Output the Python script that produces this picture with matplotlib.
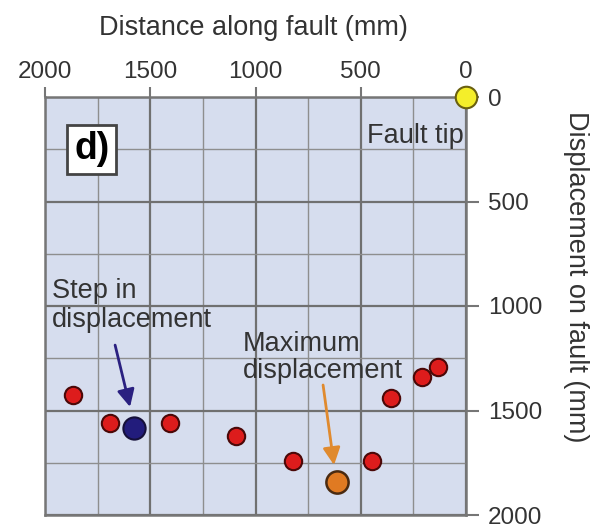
import numpy as np
import matplotlib
matplotlib.use('Agg')
import matplotlib.pyplot as plt

plt.rcParams['font.family'] = ['Liberation Sans', 'DejaVu Sans']

# distance along fault (mm) and displacement on fault (mm)
dist_red = [1868, 1691, 1406, 1093, 820, 445, 358, 208, 132]
disp_red = [1426, 1561, 1561, 1620, 1742, 1742, 1439, 1338, 1293]
dist_step = [1576]
disp_step = [1585]
dist_max = [611]
disp_max = [1841]
dist_tip = [0]
disp_tip = [0]
major_ticks = [0, 500, 1000, 1500, 2000]

fig = plt.figure(figsize=(5.92, 5.28), dpi=100)
ax = fig.add_axes([45/592, 13/528, 421/592, 418/528])
ax.set_facecolor('#d6ddee')

ax.set_xlim(2000, 0)
ax.set_ylim(2000, 0)
ax.set_xticks(major_ticks)
ax.set_yticks(major_ticks)
ax.set_xticks(np.arange(0, 2001, 250), minor=True)
ax.set_yticks(np.arange(0, 2001, 250), minor=True)

ax.set_axisbelow(True)
ax.grid(which='minor', color='#8e8e8e', lw=1.0)
ax.grid(which='major', color='#707070', lw=1.6)

for s in ax.spines.values():
    s.set_color('#767676')
    s.set_linewidth(1.8)

ax.tick_params(axis='x', which='major', top=True, bottom=False, labeltop=True,
               labelbottom=False, length=7, width=1.5, color='#767676', pad=3,
               labelsize=17.5, labelcolor='#333333')
ax.tick_params(axis='y', which='major', right=True, left=False, labelright=True,
               labelleft=False, length=9, width=1.5, color='#767676', pad=7,
               labelsize=17.5, labelcolor='#333333')
ax.tick_params(which='minor', length=0)

fig.text(253/592, 1 - 28/528, 'Distance along fault (mm)', ha='center', va='center',
         fontsize=19.5, color='#333333')
fig.text(576/592, 1 - 277/528, 'Displacement on fault (mm)', ha='center', va='center',
         rotation=270, fontsize=19.5, color='#333333')

# points
ax.plot(dist_red, disp_red, 'o', ms=12.5, mfc='#dd1c1c', mec='#4a0808', mew=1.5)
ax.plot(dist_step, disp_step, 'o', ms=16, mfc='#221c7c', mec='#15103a', mew=1.5)
ax.plot(dist_max, disp_max, 'o', ms=16, mfc='#e07a22', mec='#4a2a10', mew=1.8)
ax.plot(dist_tip, disp_tip, 'o', ms=15.5, mfc='#f4ee2a', mec='#6a6010', mew=1.5,
        clip_on=False, zorder=5)

# annotations
ax.text(1862, 250, 'd)', fontsize=27, fontweight='bold', ha='left', va='center',
        bbox=dict(boxstyle='square,pad=0.18', fc='white', ec='#444444', lw=2))
ax.text(12, 187, 'Fault tip', fontsize=19.5, ha='right', va='center', color='#333333')
ax.text(1967, 868, 'Step in\ndisplacement', fontsize=19.5, ha='left', va='top',
        linespacing=1.12, color='#333333')
ax.text(1059, 1122, 'Maximum\ndisplacement', fontsize=19.5, ha='left', va='top',
        linespacing=1.02, color='#333333')

ax.annotate('', xy=(1596, 1483), xytext=(1667, 1187),
            arrowprops=dict(arrowstyle='-|>', mutation_scale=26, lw=2,
                            color='#2a2080', shrinkA=0, shrinkB=0))
ax.annotate('', xy=(627, 1761), xytext=(679, 1378),
            arrowprops=dict(arrowstyle='-|>', mutation_scale=26, lw=2,
                            color='#e08a2e', shrinkA=0, shrinkB=0))

plt.savefig('out.png', dpi=100)
